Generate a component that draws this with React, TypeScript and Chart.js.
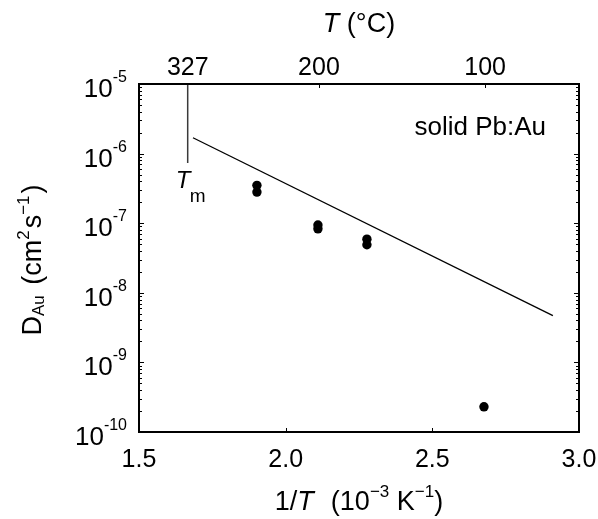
import React, { useEffect, useRef } from "react";
import { Chart, registerables } from "chart.js";

Chart.register(...registerables);

// ---- data ----
const pointInvT = [1.902, 1.902, 2.110, 2.110, 2.277, 2.277, 2.676];
const pointD = [3.5e-7, 2.8e-7, 9.4e-8, 8.3e-8, 5.9e-8, 4.9e-8, 2.3e-10];
const fitInvT = [1.684, 2.911];
const fitD = [1.69e-6, 4.7e-9];
const meltInvT = [1.666, 1.666];
const meltD = [1e-5, 7.3e-7];
const bottomTicks = [1.5, 2.0, 2.5, 3.0];
const bottomTickLabels = ["1.5", "2.0", "2.5", "3.0"];
const topTempsC = [327, 200, 100];
const topTickLabels = ["327", "200", "100"];
const yExponents = [-5, -6, -7, -8, -9, -10];

const FONT = '"Liberation Sans", Arial, Helvetica, sans-serif';

type Seg = { t: string; size: number; italic?: boolean; dy?: number; gap?: number };

function fontOf(s: Seg) {
  return `${s.italic ? "italic " : ""}${s.size}px ${FONT}`;
}

function drawRich(ctx: CanvasRenderingContext2D, segs: Seg[], x: number, y: number, align: "left" | "center" | "right") {
  const widths = segs.map((s) => {
    ctx.font = fontOf(s);
    return ctx.measureText(s.t).width + (s.gap || 0);
  });
  const total = widths.reduce((a, b) => a + b, 0);
  let cx = align === "center" ? x - total / 2 : align === "right" ? x - total : x;
  ctx.textAlign = "left";
  ctx.textBaseline = "alphabetic";
  segs.forEach((s, i) => {
    ctx.font = fontOf(s);
    ctx.fillText(s.t, cx, y + (s.dy || 0));
    cx += widths[i];
  });
}

const decorPlugin = {
  id: "decor",
  afterDraw(chart: any) {
    const ctx: CanvasRenderingContext2D = chart.ctx;
    const { left, right, top, bottom } = chart.chartArea;
    const xs = chart.scales.x;
    const ys = chart.scales.y;
    ctx.save();
    ctx.fillStyle = "#000";
    ctx.strokeStyle = "#000";

    // ticks (inward)
    ctx.lineWidth = 1;
    ctx.beginPath();
    yExponents.forEach((e) => {
      const py = Math.round(ys.getPixelForValue(Math.pow(10, e))) + 0.5;
      ctx.moveTo(left, py); ctx.lineTo(left + 5, py);
      ctx.moveTo(right, py); ctx.lineTo(right - 5, py);
      if (e > -10) {
        for (let k = 2; k <= 9; k++) {
          const my = Math.round(ys.getPixelForValue(k * Math.pow(10, e - 1))) + 0.5;
          ctx.moveTo(left, my); ctx.lineTo(left + 3, my);
          ctx.moveTo(right, my); ctx.lineTo(right - 3, my);
        }
      }
    });
    bottomTicks.forEach((v) => {
      const px = Math.round(xs.getPixelForValue(v)) + 0.5;
      ctx.moveTo(px, bottom); ctx.lineTo(px, bottom - 4);
    });
    topTempsC.forEach((c, i) => {
      if (i === 0) return;
      const px = Math.round(xs.getPixelForValue(1000 / (c + 273.15))) + 0.5;
      ctx.moveTo(px, top); ctx.lineTo(px, top + 4);
    });
    ctx.stroke();

    // frame
    ctx.lineWidth = 2;
    ctx.strokeRect(left, top, right - left, bottom - top);

    // bottom tick labels
    ctx.font = `25px ${FONT}`;
    ctx.textAlign = "center";
    ctx.textBaseline = "alphabetic";
    bottomTicks.forEach((v, i) => {
      ctx.fillText(bottomTickLabels[i], xs.getPixelForValue(v), bottom + 35);
    });
    // top tick labels
    topTempsC.forEach((c, i) => {
      ctx.fillText(topTickLabels[i], xs.getPixelForValue(1000 / (c + 273.15)), top - 9);
    });

    // y tick labels
    yExponents.forEach((e) => {
      const py = ys.getPixelForValue(Math.pow(10, e));
      drawRich(ctx, [
        { t: "10", size: 26 },
        { t: `${e}`, size: 16, dy: -15 },
      ], left - 12, py + 13, "right");
    });

    // axis titles
    drawRich(ctx, [
      { t: "1/", size: 27 },
      { t: "T", size: 27, italic: true, gap: 2 },
      { t: "  (10", size: 27 },
      { t: "\u22123", size: 17, dy: -13 },
      { t: " K", size: 27 },
      { t: "\u22121", size: 17, dy: -13 },
      { t: ")", size: 27 },
    ], (left + right) / 2, bottom + 78, "center");

    drawRich(ctx, [
      { t: "T", size: 27, italic: true },
      { t: " (\u00B0C)", size: 27 },
    ], (left + right) / 2, 32, "center");

    ctx.save();
    ctx.translate(40.5, (top + bottom) / 2 + 2);
    ctx.rotate(-Math.PI / 2);
    drawRich(ctx, [
      { t: "D", size: 27 },
      { t: "Au", size: 17, dy: 3, gap: 3 },
      { t: " (cm", size: 27 },
      { t: "2", size: 17, dy: -12, gap: 2 },
      { t: "s", size: 27 },
      { t: "\u22121", size: 17, dy: -12, gap: 2 },
      { t: ")", size: 27 },
    ], 0, 0, "center");
    ctx.restore();

    // annotations
    const mx = xs.getPixelForValue(meltInvT[1]);
    const my = ys.getPixelForValue(meltD[1]);
    drawRich(ctx, [{ t: "T", size: 24, italic: true }], mx - 12, my + 25, "left");
    drawRich(ctx, [{ t: "m", size: 19 }], mx + 2, my + 39, "left");

    drawRich(ctx, [{ t: "solid Pb:Au", size: 26 }], right - 33, top + 51, "right");

    ctx.restore();
  },
};

export default function App() {
  const ref = useRef<HTMLCanvasElement | null>(null);
  useEffect(() => {
    document.body.style.margin = "0";
    const canvas = ref.current;
    if (!canvas) return;
    const chart = new Chart(canvas, {
      type: "scatter",
      data: {
        datasets: [
          {
            label: "melting",
            data: meltInvT.map((x, i) => ({ x, y: meltD[i] })),
            showLine: true,
            borderColor: "#3a3a3a",
            borderWidth: 1.5,
            pointRadius: 0,
          },
          {
            label: "fit",
            data: fitInvT.map((x, i) => ({ x, y: fitD[i] })),
            showLine: true,
            borderColor: "#000",
            borderWidth: 1.3,
            pointRadius: 0,
          },
          {
            label: "data",
            data: pointInvT.map((x, i) => ({ x, y: pointD[i] })),
            backgroundColor: "#000",
            borderWidth: 0,
            pointRadius: 4.7,
          },
        ],
      },
      options: {
        animation: false,
        responsive: false,
        devicePixelRatio: 1,
        layout: { padding: { left: 139, right: 19, top: 84, bottom: 87 } },
        plugins: { legend: { display: false }, tooltip: { enabled: false } },
        scales: {
          x: { type: "linear", min: 1.5, max: 3.0, display: false },
          y: { type: "logarithmic", min: 1e-10, max: 1e-5, display: false },
        },
      },
      plugins: [decorPlugin],
    });
    return () => chart.destroy();
  }, []);
  return (
    <div style={{ width: 598, height: 519, background: "#fff" }}>
      <canvas ref={ref} width={598} height={519} style={{ display: "block", width: 598, height: 519 }} />
    </div>
  );
}
